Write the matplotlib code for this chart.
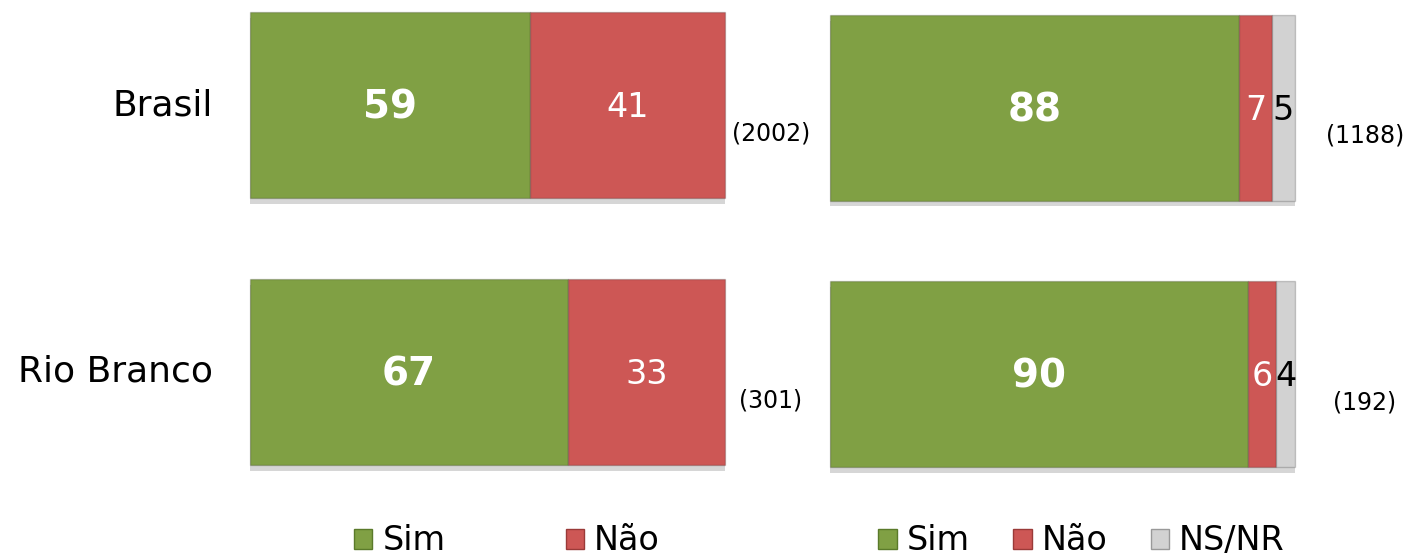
import matplotlib
matplotlib.use("Agg")
import matplotlib.pyplot as plt
import matplotlib.patheffects as pe
from matplotlib.patches import Patch

# Data
regions = ["Rio Branco", "Brasil"]

left_sim = [67, 59]
left_nao = [33, 41]
left_n = ["(301)", "(2002)"]

right_sim = [90, 88]
right_nao = [6, 7]
right_nsnr = [4, 5]
right_n = ["(192)", "(1188)"]

green = "#80a044"
red = "#cd5755"
grey = "#d2d2d2"

plt.rcParams['font.family'] = ['DejaVu Sans']

fig = plt.figure(figsize=(14.12, 5.6), dpi=100)
ax1 = fig.add_axes([0.177, 0.1696, 0.3364, 0.809])
ax2 = fig.add_axes([0.5878, 0.166, 0.3293, 0.807])

bar_h = 0.697
shadow = [pe.SimplePatchShadow(offset=(0, -4), shadow_rgbFace="#999999", alpha=0.4), pe.Normal()]
y = list(range(len(regions)))


def draw_segments(ax, series, colors, text_colors):
    left = [0] * len(regions)
    for k, (vals, col, tcol) in enumerate(zip(series, colors, text_colors)):
        bars = ax.barh(y, vals, left=left, height=bar_h, color=col,
                       edgecolor="#00000030", linewidth=1.0)
        for b in bars:
            b.set_path_effects(shadow)
            b.set_clip_on(False)
        for i, v in enumerate(vals):
            cx = left[i] + v / 2
            if k == 0:
                ax.text(cx, i - 0.01, str(v), ha="center", va="center", color=tcol,
                        fontsize=28, fontweight="bold")
            else:
                ax.text(cx, i - 0.01, str(v), ha="center", va="center", color=tcol,
                        fontsize=24)
        left = [l + v for l, v in zip(left, vals)]


draw_segments(ax1, [left_sim, left_nao], [green, red], ["white", "white"])
draw_segments(ax2, [right_sim, right_nao, right_nsnr], [green, red, grey],
              ["white", "white", "black"])

for i, t in enumerate(left_n):
    ax1.text(109.7, i - 0.105, t, ha="center", va="center", fontsize=17)
for i, t in enumerate(right_n):
    ax2.text(115, i - 0.105, t, ha="center", va="center", fontsize=17)

for ax in (ax1, ax2):
    ax.set_xlim(0, 100)
    ax.set_ylim(-bar_h / 2, 1 + bar_h / 2)
    ax.axis("off")

for i, r in enumerate(regions):
    ax1.text(-7.8, i, r, ha="right", va="center", fontsize=26)

h1 = [Patch(facecolor=green, edgecolor="#5a7a2a"), Patch(facecolor=red, edgecolor="#9a3a38")]
fig.legend(h1, ["Sim", "Não"], loc="center", bbox_to_anchor=(0.359, 0.034), ncol=2,
           frameon=False, fontsize=24, handlelength=0.55, handleheight=0.55,
           handletextpad=0.3, columnspacing=3.6)
h2 = [Patch(facecolor=green, edgecolor="#5a7a2a"), Patch(facecolor=red, edgecolor="#9a3a38"),
      Patch(facecolor=grey, edgecolor="#999999")]
fig.legend(h2, ["Sim", "Não", "NS/NR"], loc="center", bbox_to_anchor=(0.766, 0.034), ncol=3,
           frameon=False, fontsize=24, handlelength=0.55, handleheight=0.55,
           handletextpad=0.3, columnspacing=1.3)

fig.savefig("out.png", dpi=100)
